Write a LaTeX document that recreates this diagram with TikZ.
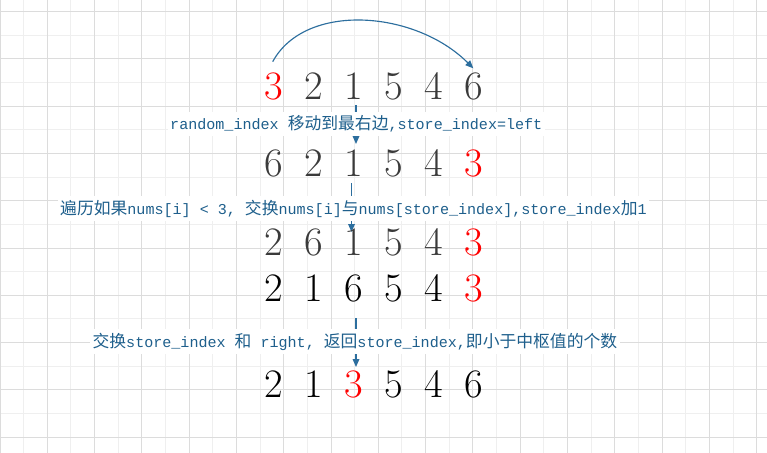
\documentclass[tikz,border=0pt]{standalone}
\usepackage{fontspec}
\newfontfamily\lblcjk{Noto Sans CJK SC}
\newfontfamily\lblmono{Liberation Mono}
\usetikzlibrary{arrows.meta}
\newcommand\mylat[1]{{\fontsize{11.3}{14}\lblmono #1}}
\newcommand\myhan[1]{{\fontsize{12.6}{14}\lblcjk #1}}
\definecolor{lblue}{RGB}{30,95,140}
\definecolor{ablue}{RGB}{44,110,158}
\definecolor{dg}{RGB}{58,58,58}
\definecolor{minorg}{RGB}{239,239,239}
\definecolor{majorg}{RGB}{220,220,220}
\tikzset{
  minorgrid/.style={draw=minorg, line width=0.75pt},
  majorgrid/.style={draw=majorg, line width=0.75pt},
  digit/.style={font=\fontsize{30.3}{36}\selectfont, inner sep=0pt, anchor=base},
  lbl/.style={fill=white, inner xsep=2pt, inner ysep=3pt, anchor=base west, text=lblue},
  flow/.style={draw=ablue, line width=0.85pt, -{Triangle[length=6pt,width=5pt]}}
}
\begin{document}
\begin{tikzpicture}[x=0.75pt,y=-0.75pt]
\useasboundingbox (0,0) rectangle (767,453);
\fill[white] (0,0) rectangle (767,453);
% grid
\foreach \k in {0,...,32} \draw[minorgrid] ({23.645*\k},0) -- ({23.645*\k},453);
\foreach \k in {0,...,18} \draw[minorgrid] (0,{11.7+23.63*\k}) -- (767,{11.7+23.63*\k});
\foreach \k in {0,...,16} \draw[majorgrid] ({47.29*\k},0) -- ({47.29*\k},453);
\foreach \k in {0,...,9} \draw[majorgrid] (0,{11.7+47.26*\k}) -- (767,{11.7+47.26*\k});
% connector end points
\coordinate (cs) at (272.7,61.7);
\coordinate (ce) at (473.3,68.3);
\coordinate (a1s) at (356,105);
\coordinate (a1e) at (356,144);
\coordinate (a2s) at (351.5,183);
\coordinate (a2e) at (351.5,232);
\coordinate (a3s) at (356,318);
\coordinate (a3e) at (356,367);
% connectors
\draw[flow] (cs) .. controls (305,2) and (415,10) .. (ce);
\draw[flow] (a1s) -- (a1e);
\draw[flow] (a2s) -- (a2e);
\draw[flow] (a3s) -- (a3e);
% labels
\node[lbl] (l1) at (167.3,129.7) {\mylat{random\_index }\myhan{移动到最右边}\mylat{,store\_index=left}};
\node[lbl] (l2) at (57.3,214) {\myhan{遍历如果}\mylat{nums[i] < 3, }\myhan{交换}\mylat{nums[i]}\myhan{与}\mylat{nums[store\_index],store\_index}\myhan{加}\mylat{1}};
\node[lbl] (l3) at (89.7,347) {\myhan{交换}\mylat{store\_index }\myhan{和}\mylat{ right, }\myhan{返回}\mylat{store\_index,}\myhan{即小于中枢值的个数}};
% digits
\foreach \d/\c [count=\i from 0] in {3/red,2/dg,1/dg,5/dg,4/dg,6/dg}
  \node[digit,text=\c] (ra\i) at ({274+40*\i},99.3) {\d};
\foreach \d/\c [count=\i from 0] in {6/dg,2/dg,1/dg,5/dg,4/dg,3/red}
  \node[digit,text=\c] (rb\i) at ({274+40*\i},176.7) {\d};
\foreach \d/\c [count=\i from 0] in {2/dg,6/dg,1/dg,5/dg,4/dg,3/red}
  \node[digit,text=\c] (rc\i) at ({274+40*\i},255.7) {\d};
\foreach \d/\c [count=\i from 0] in {2/black,1/black,6/black,5/black,4/black,3/red}
  \node[digit,text=\c] (rd\i) at ({274+40*\i},301) {\d};
\foreach \d/\c [count=\i from 0] in {2/black,1/black,3/red,5/black,4/black,6/black}
  \node[digit,text=\c] (re\i) at ({274+40*\i},397.3) {\d};
\end{tikzpicture}
\end{document}
